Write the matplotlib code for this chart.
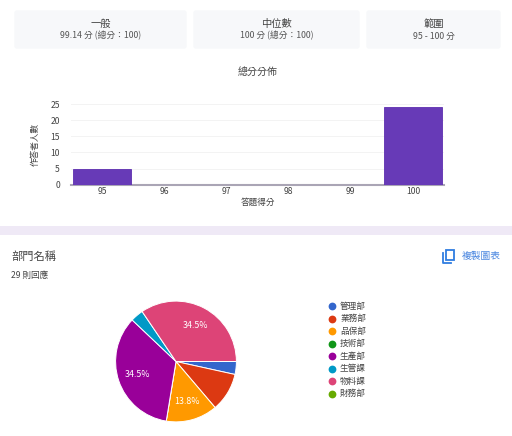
import matplotlib
matplotlib.use("Agg")
import matplotlib.pyplot as plt
from matplotlib.patches import FancyBboxPatch, Rectangle

plt.rcParams['font.family'] = ['Noto Sans CJK TC', 'DejaVu Sans']

# summary cards
card_titles = ['一般', '中位數', '範圍']
card_values = ['99.14 分 (總分：100)', '100 分 (總分：100)', '95 - 100 分']

# score histogram
scores = ['95', '96', '97', '98', '99', '100']
counts = [5, 0, 0, 0, 0, 24]
y_ticks = [0, 5, 10, 15, 20, 25]

# departments
departments = ['管理部', '業務部', '品保部', '技術部', '生產部', '生管課', '物料課', '財務部']
dept_counts = [1, 3, 4, 0, 10, 1, 10, 0]
dept_colors = ['#3366cc', '#dc3912', '#ff9900', '#109618', '#990099', '#0099c6', '#dd4477', '#66aa00']

W, H = 512, 436
fig = plt.figure(figsize=(W / 100, H / 100), dpi=100, facecolor='white')


def px_axes(left, top, right, bottom):
    return fig.add_axes([left / W, 1 - bottom / H, (right - left) / W, (bottom - top) / H])


# page background in pixel coordinates
bg = fig.add_axes([0, 0, 1, 1])
bg.set_xlim(0, W)
bg.set_ylim(H, 0)
bg.axis('off')

card_x = [(14, 187), (193, 360), (366, 501)]
for (x0, x1), title, value in zip(card_x, card_titles, card_values):
    bg.add_patch(FancyBboxPatch((x0 + 1, 11), x1 - x0 - 2, 37, boxstyle='round,pad=0,rounding_size=2',
                                fc='#f7f8fa', ec='#f7f8fa', lw=1))
    bg.text((x0 + x1) / 2, 24, title, ha='center', va='center', fontsize=7.4, color='#444444')
    bg.text((x0 + x1) / 2, 36, value, ha='center', va='center', fontsize=6.3, color='#555555')

bg.text(257.5, 72, '總分分佈', ha='center', va='center', fontsize=7.2, color='#444444')

# lilac divider
bg.add_patch(Rectangle((0, 226), W, 9, fc='#efe9f6', ec='none'))

bg.text(11, 257, '部門名稱', ha='left', va='center', fontsize=8.1, color='#444444')
bg.text(11, 275, '29 則回應', ha='left', va='center', fontsize=6.2, color='#444444')
bg.text(501, 256, '複製圖表', ha='right', va='center', fontsize=7, color='#4a86e0')

# copy icon
bg.add_patch(Rectangle((445.5, 249.5), 8, 10.5, fc='none', ec='#2f7de1', lw=1.3))
bg.plot([443, 443, 451], [253, 262.5, 262.5], color='#2f7de1', lw=1.3)

# histogram
ax = px_axes(71, 104, 444, 184.7)
ax.bar(range(len(scores)), counts, width=0.94, color='#673ab7', edgecolor='#5e2fb0', linewidth=0.6, zorder=3)
ax.set_xlim(-0.5, 5.5)
ax.set_ylim(0, 25)
ax.set_xticks(range(len(scores)), scores)
ax.set_yticks(y_ticks)
ax.tick_params(length=0, labelsize=6.2, labelcolor='#444444')
ax.tick_params(axis='x', pad=2)
ax.tick_params(axis='y', pad=8)
ax.grid(axis='y', color='#f3f3f3', lw=0.7, zorder=0)
for side in ['top', 'left', 'right']:
    ax.spines[side].set_visible(False)
ax.spines['bottom'].set_color('#aaa5b5')
ax.spines['bottom'].set_linewidth(1.5)
ax.set_xlabel('答題得分', fontsize=6.2, style='italic', color='#444444', labelpad=1)
ax.set_ylabel('作答者人數', fontsize=6.2, style='italic', color='#444444', labelpad=8)

# pie
pie_ax = px_axes(115, 300.5, 237, 422.5)


def pct_label(p):
    return f'{p:.1f}%' if p > 13 else ''


wedges, texts, autotexts = pie_ax.pie(
    dept_counts, colors=dept_colors, startangle=0, counterclock=False, radius=1,
    autopct=pct_label, pctdistance=0.68,
    wedgeprops={'edgecolor': 'white', 'linewidth': 0.7},
    textprops={'fontsize': 6.4, 'color': 'white'})
pie_ax.set_xlim(-1.01, 1.01)
pie_ax.set_ylim(-1.01, 1.01)

# legend
for i, (name, color) in enumerate(zip(departments, dept_colors)):
    y = 306.3 + i * 12.5
    bg.plot([332], [y], 'o', ms=5.6, color=color, mec='none')
    bg.text(340, y, name, ha='left', va='center', fontsize=6.2, color='#444444')

fig.savefig('out.png', dpi=100)
